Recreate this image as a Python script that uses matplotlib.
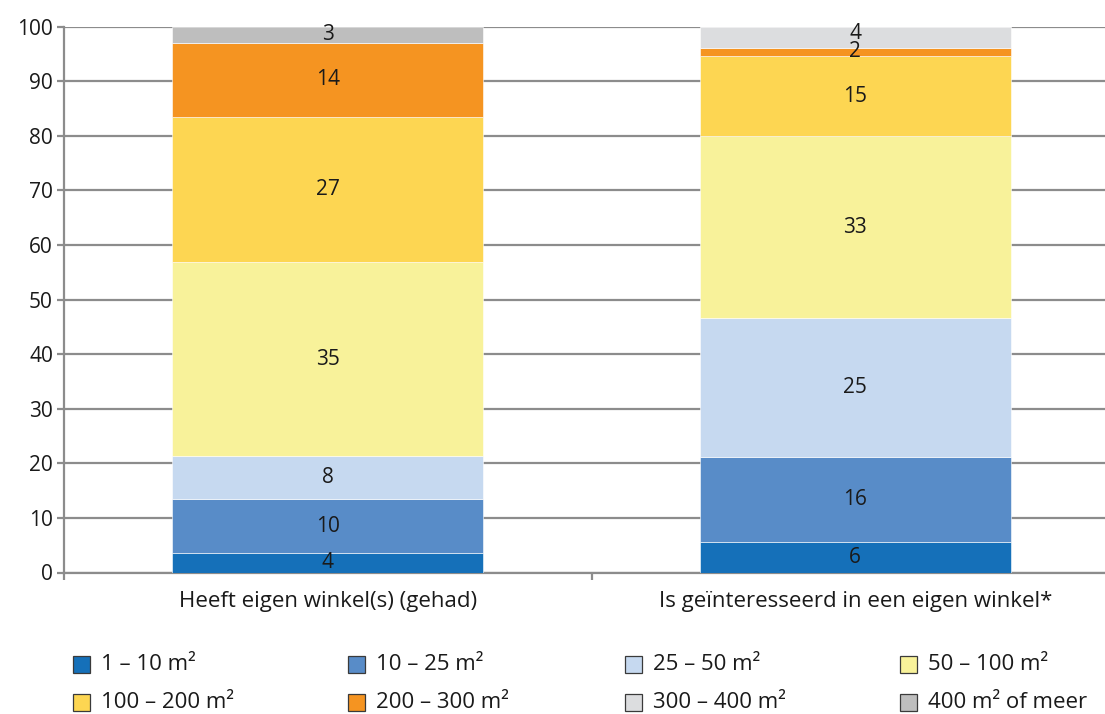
import matplotlib
matplotlib.use("Agg")
import matplotlib.pyplot as plt
from matplotlib.patches import Rectangle
from matplotlib.transforms import offset_copy

plt.rcParams['font.family'] = ['Open Sans', 'DejaVu Sans']

categories = ["Heeft eigen winkel(s) (gehad)", "Is geïnteresseerd in een eigen winkel*"]
size_classes = ["1 – 10 m²", "10 – 25 m²", "25 – 50 m²", "50 – 100 m²",
                "100 – 200 m²", "200 – 300 m²", "300 – 400 m²", "400 m² of meer"]
colors = ["#1570b9", "#588cc8", "#c6d9f0", "#f8f29a",
          "#fdd652", "#f59421", "#dcdddf", "#bebebe"]

# percentage per size class, for each group
share_owners = [3.5, 10.0, 7.9, 35.4, 26.7, 13.5, 0.0, 3.0]
share_interested = [5.6, 15.6, 25.4, 33.3, 14.7, 1.5, 3.9, 0.0]
series = [share_owners, share_interested]
yticks = list(range(0, 101, 10))

fig = plt.figure(figsize=(11.05, 7.14), dpi=100)
W, H = 1105, 714
ax = fig.add_axes([64 / W, 1 - 572.5 / H, (1119 - 64) / W, (572.5 - 26.5) / H])

grid_c = "#8c8c8c"
txt_c = "#1a1a1a"
x = [0, 1]
bottoms = [0.0, 0.0]
prev_seg = [None, None]
lifted = offset_copy(ax.transData, fig=fig, x=0, y=4, units="dots")
for k, (label, col) in enumerate(zip(size_classes, colors)):
    vals = [s[k] for s in series]
    ax.bar(x, vals, width=0.59, bottom=bottoms, color=col,
           edgecolor="white", linewidth=0.4, zorder=3)
    for i, (xi, v, b) in enumerate(zip(x, vals, bottoms)):
        if v > 0:
            # keep a label clear of a very thin segment right below it
            tr = lifted if (prev_seg[i] is not None and prev_seg[i] < 2.5) else ax.transData
            ax.text(xi, b + v / 2, f"{int(v + 0.5)}", ha="center", va="center",
                    fontsize=15, color=txt_c, zorder=4, transform=tr)
            prev_seg[i] = v
    bottoms = [b + v for b, v in zip(bottoms, vals)]

ax.set_xlim(-0.5, 1.5)
ax.set_ylim(0, 100)
ax.set_yticks(yticks)
ax.set_yticklabels([str(t) for t in yticks], fontsize=15, color=txt_c)
ax.yaxis.grid(True, color=grid_c, linewidth=1.6, zorder=0)
ax.set_axisbelow(True)
ax.tick_params(axis="y", length=5, width=1.6, color=grid_c, pad=3)

ax.set_xticks(x)
ax.set_xticklabels(categories, fontsize=16, color=txt_c)
ax.tick_params(axis="x", which="major", length=0, pad=13)
ax.set_xticks([-0.5, 0.5, 1.5], minor=True)
ax.tick_params(axis="x", which="minor", length=5, width=1.6, color=grid_c, direction="out")

for side in ["top", "right"]:
    ax.spines[side].set_visible(False)
for side in ["left", "bottom"]:
    ax.spines[side].set_color(grid_c)
    ax.spines[side].set_linewidth(1.6)

# legend in two rows of four
col_x = [73, 348, 625, 900]
row_y = [664, 702]
for k, (label, col) in enumerate(zip(size_classes, colors)):
    r, c = divmod(k, 4)
    x0 = col_x[c]
    yc = row_y[r]
    fig.add_artist(Rectangle((x0 / W, 1 - (yc + 8.5) / H), 17 / W, 17 / H,
                             transform=fig.transFigure, facecolor=col,
                             edgecolor="#3a3a3a", linewidth=0.9))
    fig.text((x0 + 28) / W, 1 - yc / H, label, ha="left", va="center",
             fontsize=16, color=txt_c)

fig.savefig("out.png", dpi=100)
